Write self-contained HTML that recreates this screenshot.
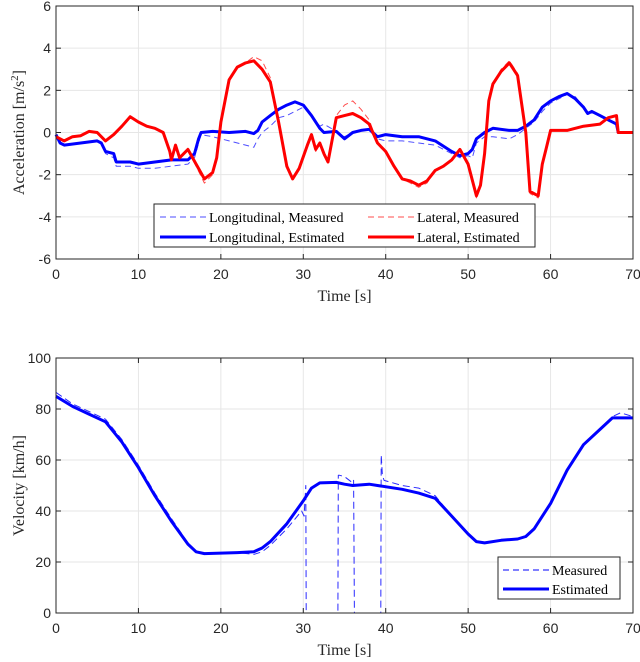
<!DOCTYPE html>
<html><head><meta charset="utf-8">
<style>
html,body{margin:0;padding:0;background:#fff;}
svg{display:block;}
.tick{font-family:"Liberation Sans",sans-serif;font-size:14px;fill:#262626;}
.lab{font-family:"Liberation Serif",serif;font-size:16px;fill:#262626;}
.leg{font-family:"Liberation Serif",serif;font-size:14px;fill:#000;}
</style></head>
<body>
<svg id="chart" width="640" height="662" viewBox="0 0 640 662" xmlns="http://www.w3.org/2000/svg"></svg>
<script>
// ---- Data: acceleration plot ----
const lonEstT=[0,0.5,1,3,5,5.5,6,7,7.3,9,10,12,14,16,16.8,17.3,17.6,19,21,23,24,24.5,25,26,27,28,29,30,31,32,32.5,34,35,36,37,38,39,40,42,44,46,48,49,50,50.5,51,52,53,55,56,57,58,59,60,61,62,63,64,64.5,65,66,67,68,68.2,70];
const lonEstV=[-0.1,-0.5,-0.6,-0.5,-0.4,-0.5,-0.9,-1.0,-1.4,-1.4,-1.5,-1.4,-1.3,-1.3,-1.0,-0.3,0,0.05,0,0.05,-0.05,0.1,0.5,0.8,1.1,1.3,1.45,1.3,0.8,0.2,0,0.05,-0.3,0,0.1,0.15,-0.2,-0.1,-0.2,-0.2,-0.4,-0.9,-1.1,-1.0,-0.8,-0.3,0,0.2,0.1,0.1,0.3,0.6,1.2,1.5,1.7,1.85,1.6,1.2,0.9,1.0,0.8,0.6,0.4,0,0];
const lonMeasT=[0,0.5,1,3,5,5.5,6,7,7.3,9,10,12,14,16,16.8,17.3,17.6,19,21,23,24,24.5,25,26,27,28,29,30,31,32,32.5,34,35,36,37,38,39,40,42,44,46,48,49,50,50.5,51,52,53,55,56,57,58,59,60,61,62,63,64,64.5,65,66,67,68,68.2,70];
const lonMeasV=[-0.1,-0.5,-0.6,-0.5,-0.4,-0.5,-1.0,-1.2,-1.6,-1.6,-1.7,-1.7,-1.6,-1.5,-1.2,-0.5,-0.1,-0.2,-0.4,-0.6,-0.7,-0.3,0,0.3,0.7,0.8,1.0,1.2,0.8,0.3,0.4,0.05,-0.2,0,0.1,0.1,-0.3,-0.4,-0.4,-0.5,-0.6,-1.0,-1.2,-1.1,-1.2,-0.5,-0.2,-0.2,-0.3,-0.1,0.2,0.5,1.0,1.4,1.6,1.8,1.7,1.2,0.9,1.0,0.8,0.6,0.4,0,0];
const latEstT=[0,1,2,3,4,5,6,7,8,9,10,11,12,13,13.8,14,14.5,15,16,17,18,19,19.5,20,21,22,23,24,25,26,27,28,28.7,29.5,30.5,31,31.5,32,32.5,33,34,35,36,37,38,39,40,41,42,43,44,45,46,47,48,49,50,51,51.5,52,52.5,53,54,55,56,57,57.5,58.5,59,59.5,60,62,64,66,67,68,68.2,70];
const latEstV=[-0.2,-0.4,-0.2,-0.15,0.05,0,-0.4,-0.1,0.3,0.75,0.5,0.3,0.2,0,-0.9,-1.3,-0.6,-1.2,-0.8,-1.5,-2.2,-1.9,-1.2,0.5,2.5,3.1,3.3,3.4,3.0,2.4,0.5,-1.6,-2.2,-1.7,-0.6,-0.1,-0.8,-0.5,-1.0,-1.4,0.7,0.8,0.9,0.7,0.4,-0.5,-0.9,-1.6,-2.2,-2.3,-2.5,-2.3,-1.8,-1.6,-1.3,-0.8,-1.5,-3.0,-2.5,-1.0,1.5,2.3,2.9,3.3,2.7,0,-2.8,-3.0,-1.5,-0.7,0.1,0.1,0.3,0.4,0.7,0.8,0,0];
const latMeasT=latEstT;
const latMeasV=[-0.2,-0.4,-0.2,-0.15,0.05,0,-0.4,-0.1,0.3,0.75,0.5,0.3,0.2,0,-0.9,-1.3,-0.6,-1.2,-0.8,-1.6,-2.4,-2.0,-1.2,0.5,2.5,3.1,3.3,3.6,3.4,2.6,0.6,-1.5,-2.1,-1.7,-0.6,-0.1,-0.9,-0.5,-1.1,-1.4,0.8,1.3,1.5,1.1,0.6,-0.5,-0.9,-1.6,-2.2,-2.4,-2.6,-2.4,-1.8,-1.6,-1.3,-0.8,-1.5,-3.1,-2.5,-1.0,1.5,2.3,3.0,3.4,2.8,0,-2.9,-3.1,-1.5,-0.7,0.1,0.1,0.3,0.4,0.7,0.8,0,0];
const accYTicks=[-6,-4,-2,0,2,4,6];
const xTicks=[0,10,20,30,40,50,60,70];
// ---- Data: velocity plot ----
const velEstT=[0,2,4,6,8,10,12,14,16,17,18,20,22,24,25,26,28,30,31,32,34,35,36,38,39,42,44,46,48,50,51,52,54,56,57,58,60,62,64,66,67.5,70];
const velEstV=[85,81,78,75,67,57,46,36,27,24,23.3,23.5,23.7,24,25.5,28,35,44,49,51,51.2,50.5,50,50.5,50,48.5,47,45,38,31,28,27.5,28.5,29,30,33,43,56,66,72,76.5,76.5];
const velMeasT=[0,2,4,6,8,10,12,14,16,17,18,20,22,24,25,26,28,29.8,30.1,30.3,30.35,30.5,34.2,34.25,34.4,35,36,36.1,36.2,39.4,39.45,39.6,39.8,42,44,46,48,50,51,52,54,56,57,58,60,62,64,66,67.5,68.5,70];
const velMeasV=[86.5,82,79,76,68,58,47,37,27.5,24,23.3,23.5,23.7,23,24,26.5,33,40,38,50,0,0,0,54,54,53.5,51,52,0,0,62,54,52,50,49,46,38,31,28,27.5,28.5,29,30,33,43,56,66,72,77,78.5,77];
const velYTicks=[0,20,40,60,80,100];

const svg=document.getElementById('chart');
const NS='http://www.w3.org/2000/svg';
function el(tag,attrs,parent,text){const e=document.createElementNS(NS,tag);for(const k in attrs)e.setAttribute(k,attrs[k]);if(text!==undefined)e.textContent=text;(parent||svg).appendChild(e);return e;}

function panel(name,x0,x1,yTop,yBot,ymin,ymax,yTicks,ylabel){
  const g=el('g',{},svg);
  
  
  const sx=t=>x0+(t-0)/(70-0)*(x1-x0);
  const sy=v=>yBot-(v-ymin)/(ymax-ymin)*(yBot-yTop);
  el('rect',{x:x0,y:yTop,width:x1-x0,height:yBot-yTop,fill:'#fff'},g);
  xTicks.forEach(t=>{
    const l=el('line',{x1:sx(t),x2:sx(t),y1:yTop,y2:yBot,stroke:'#e6e6e6','stroke-width':1},g);
    
    el('line',{x1:sx(t),x2:sx(t),y1:yBot,y2:yBot-5,stroke:'#262626'},g);
    el('line',{x1:sx(t),x2:sx(t),y1:yTop,y2:yTop+5,stroke:'#262626'},g);
    const tx=el('text',{x:sx(t),y:yBot+20,'text-anchor':'middle',class:'tick'},g,String(t));
    
  });
  yTicks.forEach(v=>{
    const l=el('line',{x1:x0,x2:x1,y1:sy(v),y2:sy(v),stroke:'#e6e6e6','stroke-width':1},g);
    
    el('line',{x1:x0,x2:x0+5,y1:sy(v),y2:sy(v),stroke:'#262626'},g);
    el('line',{x1:x1,x2:x1-5,y1:sy(v),y2:sy(v),stroke:'#262626'},g);
    const tx=el('text',{x:x0-5,y:sy(v)+5,'text-anchor':'end',class:'tick'},g,String(v));
    
  });
  const xl=el('text',{x:(x0+x1)/2,y:yBot+42,'text-anchor':'middle',class:'lab'},g,'Time [s]');
  
  const yl=el('text',{x:0,y:0,'text-anchor':'middle',class:'lab',transform:`translate(${x0-32},${(yTop+yBot)/2}) rotate(-90)`},g);
  
  yl.innerHTML=ylabel;
  return {g,sx,sy,x0,x1,yTop,yBot};
}
function series(p,T,V,color,w,dash,name){
  const d=T.map((t,i)=>(i?'L':'M')+p.sx(t).toFixed(1)+' '+p.sy(V[i]).toFixed(1)).join(' ');
  const path=el('path',{d,fill:'none',stroke:color,'stroke-width':w,'stroke-linejoin':'round'},p.g);
  if(dash)path.setAttribute('stroke-dasharray',dash);
  
  
}
function frame(p){
  const r=el('rect',{x:p.x0,y:p.yTop,width:p.x1-p.x0,height:p.yBot-p.yTop,fill:'none',stroke:'#262626','stroke-width':1},p.g);
  
}

// top panel
const p1=panel('acceleration-plot',56,633,6,259,-6,6,accYTicks,'Acceleration [m/s<tspan dy="-6" font-size="11">2</tspan><tspan dy="6">]</tspan>');
series(p1,lonMeasT,lonMeasV,'#4d4dff',1,'6 4','longitudinal-measured-line');
series(p1,latMeasT,latMeasV,'#ff4d4d',1,'6 4','lateral-measured-line');
series(p1,lonEstT,lonEstV,'#0000ff',3,null,'longitudinal-estimated-line');
series(p1,latEstT,latEstV,'#ff0000',3,null,'lateral-estimated-line');
frame(p1);
// legend top
(function(){
  const g=el('g',{},p1.g);
  
  el('rect',{x:154,y:204,width:381,height:43,fill:'#fff',stroke:'#262626'},g);
  const items=[[160,217,'#4d4dff',1,'6 4','Longitudinal, Measured'],[368,217,'#ff4d4d',1,'6 4','Lateral, Measured'],[160,237,'#0000ff',3,null,'Longitudinal, Estimated'],[368,237,'#ff0000',3,null,'Lateral, Estimated']];
  items.forEach(it=>{
    const e=el('g',{},g);
    
    const l=el('line',{x1:it[0],x2:it[0]+46,y1:it[1],y2:it[1],stroke:it[2],'stroke-width':it[3]},e);
    if(it[4])l.setAttribute('stroke-dasharray',it[4]);
    el('text',{x:it[0]+49,y:it[1]+5,class:'leg'},e,it[5]);
  });
})();

// bottom panel
const p2=panel('velocity-plot',56,633,358,613,0,100,velYTicks,'Velocity [km/h]');
series(p2,velMeasT,velMeasV,'#2a2aff',1,'7 4','velocity-measured-line');
series(p2,velEstT,velEstV,'#0000ff',3,null,'velocity-estimated-line');
frame(p2);
(function(){
  const g=el('g',{},p2.g);
  
  el('rect',{x:498,y:557,width:122,height:42,fill:'#fff',stroke:'#262626'},g);
  const items=[[503,570,1,'6 4','Measured'],[503,589,3,null,'Estimated']];
  items.forEach(it=>{
    const e=el('g',{},g);
    
    const l=el('line',{x1:it[0],x2:it[0]+46,y1:it[1],y2:it[1],stroke:'#0000ff','stroke-width':it[2]},e);
    if(it[3])l.setAttribute('stroke-dasharray',it[3]);
    el('text',{x:it[0]+49,y:it[1]+5,class:'leg'},e,it[4]);
  });
})();
</script>
</body></html>
